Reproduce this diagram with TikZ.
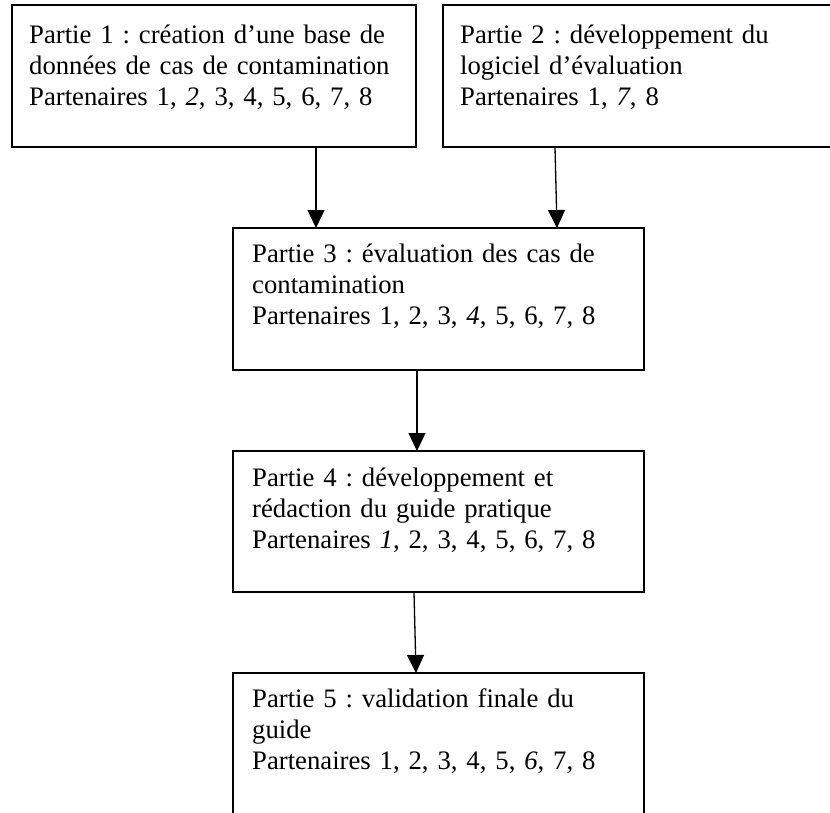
\documentclass[tikz,border=0pt]{standalone}
\usepackage{fontspec}
\setmainfont{Liberation Serif}
\usetikzlibrary{arrows.meta,calc}
\frenchspacing
\begin{document}
\begin{tikzpicture}[x=1pt,y=-1pt,
  box/.style={draw,line width=1.4pt,rectangle,inner sep=0pt,outer sep=0pt,anchor=north west},
  lbl/.style={anchor=base west,inner sep=0pt,text width=560pt,align=left,font=\fontsize{26.7}{31.2}\selectfont\frenchspacing},
  arr/.style={line width=1.3pt,-{Triangle[width=17pt,length=18pt]}}]
\clip (0,0) rectangle (830,812);
\fill[white] (0,0) rectangle (830,812);
% boxes
\node[box,minimum width=404pt,minimum height=142pt] (b1) at (12,5) {};
\node[box,minimum width=420pt,minimum height=142pt] (b2) at (443,5) {};
\node[box,minimum width=411pt,minimum height=142pt] (b3) at (233,228) {};
\node[box,minimum width=411pt,minimum height=141pt] (b4) at (233,451) {};
\node[box,minimum width=411pt,minimum height=142pt] (b5) at (233,673) {};
% texts
\node[lbl] (t1) at (29,43) {\makebox[381pt][s]{Partie 1 : création d’une base de}\\\makebox[381pt][s]{données de cas de contamination}\\Partenaires 1, \textit{2}, 3, 4, 5, 6, 7, 8};
\node[lbl] (t2) at (460,43) {Partie 2 : développement du\\logiciel d’évaluation\\Partenaires 1, \textit{7}, 8};
\node[lbl] (t3) at (252,262) {Partie 3 : évaluation des cas de\\contamination\\Partenaires 1, 2, 3, \textit{4}, 5, 6, 7, 8};
\node[lbl] (t4) at (252,486) {Partie 4 : développement et\\rédaction du guide pratique\\Partenaires \textit{1}, 2, 3, 4, 5, 6, 7, 8};
\node[lbl] (t5) at (252,707) {Partie 5 : validation finale du\\guide\\Partenaires 1, 2, 3, 4, 5, \textit{6}, 7, 8};
% arrows
\draw[arr] ($(b1.south west)+(304,0)$) -- ($(b3.north west)+(83,0)$);
\draw[arr] ($(b2.south west)+(112,0)$) -- ($(b3.north west)+(324,0)$);
\draw[arr] ($(b3.south west)+(184,0)$) -- ($(b4.north west)+(184,0)$);
\draw[arr] ($(b4.south west)+(181,0)$) -- ($(b5.north west)+(183,0)$);
\end{tikzpicture}
\end{document}
